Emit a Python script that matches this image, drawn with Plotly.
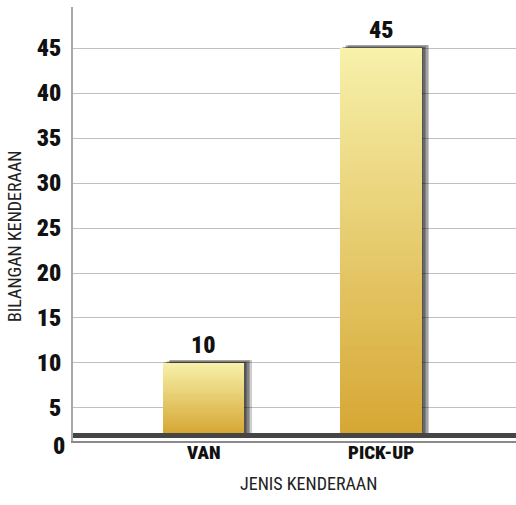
import plotly.graph_objects as go

categories = ["VAN", "PICK-UP"]
values = [10, 45]
tick_values = [5, 10, 15, 20, 25, 30, 35, 40, 45]
tick_labels = ["5", "10", "15", "20", "25", "30", "35", "40", "45"]
x_title = "JENIS KENDERAAN"
y_title = "BILANGAN KENDERAAN"

FLOOR = 2.22          # top of the dark floor band (bars stand on it)
FLOOR_LOW = 1.67
Y_RANGE = [1.33, 49.56]
X_RANGE = [-0.735, 1.76]
BAR_W = 0.459
PX_PER_UNIT_X = 443 / (X_RANGE[1] - X_RANGE[0])
PX_PER_UNIT_Y = 9.0

FONT = "Roboto Condensed, Open Sans Condensed, sans-serif"
TOP_C = (247, 241, 171)
BOT_C = (214, 167, 52)

fig = go.Figure()

# shadows (blurred look via layered translucent bars)
for d in [1.5, 3.0, 4.5, 6.0, 7.5]:
    fig.add_trace(go.Bar(
        x=categories,
        y=[v - FLOOR + d * 0.45 / PX_PER_UNIT_Y for v in values],
        base=FLOOR,
        width=BAR_W,
        offset=-BAR_W / 2 + d / PX_PER_UNIT_X,
        marker=dict(color="rgba(0,0,0,0.2)", line=dict(width=0)),
        hoverinfo="skip", showlegend=False,
    ))

# gradient bars via layered bars
N = 80
for k in range(N):
    t = (k + 0.5) / N
    c = tuple(round(TOP_C[i] + (BOT_C[i] - TOP_C[i]) * t) for i in range(3))
    fig.add_trace(go.Bar(
        x=categories,
        y=[(v - FLOOR) * (1 - k / N) for v in values],
        base=FLOOR,
        width=BAR_W,
        offset=-BAR_W / 2,
        marker=dict(color="rgb(%d,%d,%d)" % c, line=dict(width=0)),
        hoverinfo="skip", showlegend=False,
    ))

# value labels and category labels
for cat, v in zip(categories, values):
    fig.add_annotation(x=cat, y=v, xref="x", yref="y", yanchor="middle",
                       yshift=18, text=str(v), showarrow=False,
                       font=dict(family=FONT, size=24, color="#111111", weight=900))
    fig.add_annotation(x=cat, y=0, xref="x", yref="paper", yanchor="middle",
                       yshift=-11, text=cat, showarrow=False,
                       font=dict(family=FONT, size=19, color="#111111", weight=900))

fig.add_shape(type="rect", xref="paper", yref="y", x0=0, x1=1,
              y0=FLOOR_LOW, y1=FLOOR, fillcolor="#454545", line=dict(width=0),
              layer="above")

fig.add_annotation(xref="paper", yref="paper", x=0, y=-0.0115, xanchor="right",
                   yanchor="middle", xshift=-6, text="0", showarrow=False,
                   font=dict(family=FONT, size=24, color="#111111", weight=900))
fig.add_annotation(xref="paper", yref="paper", x=0.5, y=0, yanchor="middle",
                   xshift=14, yshift=-42, text=x_title, showarrow=False,
                   font=dict(family=FONT, size=18, color="#222222"))
fig.add_annotation(xref="paper", yref="paper", x=0, y=0.5, textangle=-90,
                   xanchor="center", yanchor="middle", xshift=-59, yshift=-12,
                   text=y_title, showarrow=False,
                   font=dict(family=FONT, size=18, color="#222222"))

fig.update_layout(
    width=516, height=505,
    margin=dict(l=73, r=0, t=7, b=64),
    paper_bgcolor="white", plot_bgcolor="white",
    barmode="overlay", bargap=0,
    xaxis=dict(range=X_RANGE, showgrid=False, showline=True, linecolor="#8a8a8a",
               linewidth=1.5, ticks="", showticklabels=False, fixedrange=True),
    yaxis=dict(range=Y_RANGE, tickvals=tick_values, ticktext=tick_labels,
               showgrid=True, gridcolor="#c0c0c0", gridwidth=1.3,
               zeroline=False, showline=True, linecolor="#a8a8a8", linewidth=2,
               ticks="", ticklabelstandoff=5,
               tickfont=dict(family=FONT, size=24, color="#111111", weight=900),
               fixedrange=True),
)

fig.write_html("out.html", config={"displayModeBar": False},
               post_script="document.body.style.margin='0';")
